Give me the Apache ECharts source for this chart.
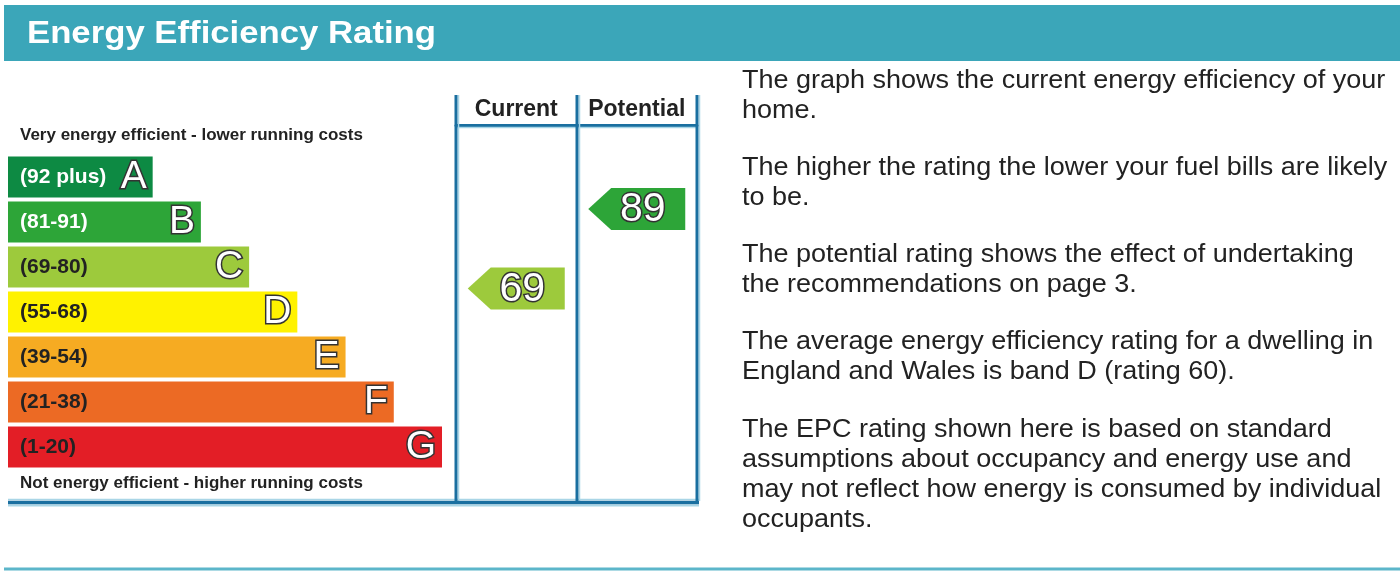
<!DOCTYPE html>
<html>
<head>
<meta charset="utf-8">
<script src="https://cdn.jsdelivr.net/npm/echarts@6/dist/echarts.min.js"></script>
<style>
html,body{margin:0;padding:0;background:#fff;}
#chart{width:1400px;height:571px;}
</style>
</head>
<body>
<div id="chart"></div>
<script>
// ---- data ----
const bandLetters = ['A', 'B', 'C', 'D', 'E', 'F', 'G'];
const bandRanges = ['(92 plus)', '(81-91)', '(69-80)', '(55-68)', '(39-54)', '(21-38)', '(1-20)'];
const bandMinScores = [92, 81, 69, 55, 39, 21, 1];
const barLengths = [3, 4, 5, 6, 7, 8, 9];
const ratingColumns = ['Current', 'Potential'];
const ratingValues = [69, 89];
const titleText = 'Energy Efficiency Rating';
const topNote = 'Very energy efficient - lower running costs';
const bottomNote = 'Not energy efficient - higher running costs';
const infoLines = [
  'The graph shows the current energy efficiency of your',
  'home.',
  'The higher the rating the lower your fuel bills are likely',
  'to be.',
  'The potential rating shows the effect of undertaking',
  'the recommendations on page 3.',
  'The average energy efficiency rating for a dwelling in',
  'England and Wales is band D (rating 60).',
  'The EPC rating shown here is based on standard',
  'assumptions about occupancy and energy use and',
  'may not reflect how energy is consumed by individual',
  'occupants.'
];

// ---- styles ----
const bandColors = ['#0d8a43', '#2da538', '#9dca3c', '#fff200', '#f6ab22', '#ec6a24', '#e31e26'];
const bandTextColors = ['#ffffff', '#ffffff', '#222222', '#222222', '#222222', '#222222', '#222222'];
const infoY = [81, 111, 168, 198, 255, 285, 342, 372, 430, 460, 490, 520];
const frameDark = '#1a6fa0';
const frameLight = '#a9d5e6';
const FONT = '"Liberation Sans", Arial, sans-serif';

function bandIndexFor(v) {
  for (let i = 0; i < bandMinScores.length; i++) if (v >= bandMinScores[i]) return i;
  return bandMinScores.length - 1;
}

const chart = echarts.init(document.getElementById('chart'), null, {renderer: 'canvas'});

const graphics = [
  {type: 'rect', shape: {x: 4, y: 5, width: 1396, height: 56}, style: {fill: '#3ba6b9'}, z: 1},
  {type: 'text', x: 27, y: 34, scaleX: 1.12, style: {text: titleText, fill: '#ffffff', font: 'bold 31px ' + FONT, textVerticalAlign: 'middle', textAlign: 'left'}, z: 2},
  {type: 'line', shape: {x1: 4, y1: 569, x2: 1400, y2: 569}, style: {stroke: '#5cb6ca', lineWidth: 3}, z: 1},
  {type: 'text', x: 20, y: 135, style: {text: topNote, fill: '#222', font: 'bold 17px ' + FONT, textVerticalAlign: 'middle'}, z: 2},
  {type: 'text', x: 20, y: 483, style: {text: bottomNote, fill: '#222', font: 'bold 17px ' + FONT, textVerticalAlign: 'middle'}, z: 2}
];
// frame lines
[456, 577, 697].forEach(function (x) {
  graphics.push({type: 'line', shape: {x1: x + 2.5, y1: 95, x2: x + 2.5, y2: 501}, style: {stroke: frameLight, lineWidth: 1.5}, z: 3});
  graphics.push({type: 'line', shape: {x1: x, y1: 95, x2: x, y2: 503}, style: {stroke: frameDark, lineWidth: 3}, z: 4});
});
graphics.push({type: 'line', shape: {x1: 8, y1: 499.5, x2: 699, y2: 499.5}, style: {stroke: frameLight, lineWidth: 1.5}, z: 3});
graphics.push({type: 'line', shape: {x1: 8, y1: 505.5, x2: 699, y2: 505.5}, style: {stroke: frameLight, lineWidth: 2}, z: 3});
graphics.push({type: 'line', shape: {x1: 8, y1: 502.5, x2: 699, y2: 502.5}, style: {stroke: frameDark, lineWidth: 3.5}, z: 4});
graphics.push({type: 'line', shape: {x1: 456, y1: 127.5, x2: 697, y2: 127.5}, style: {stroke: frameLight, lineWidth: 1.5}, z: 3});
infoLines.forEach(function (t, i) {
  graphics.push({type: 'text', x: 742, y: infoY[i], scaleX: 1.08, style: {text: t, fill: '#222', font: '25px ' + FONT, textVerticalAlign: 'middle'}, z: 2});
});

const option = {
  animation: false,
  backgroundColor: '#ffffff',
  grid: [
    {left: 8, top: 154.5, width: 434, height: 315},
    {left: 456, top: 165.3, width: 241, height: 397.5}
  ],
  xAxis: [
    {type: 'value', gridIndex: 0, min: 0, max: 9, show: false},
    {type: 'category', gridIndex: 1, data: ratingColumns, position: 'top', offset: 40.3,
      axisLine: {show: true, onZero: false, lineStyle: {color: frameDark, width: 3}},
      axisTick: {show: false}, splitLine: {show: false},
      axisLabel: {interval: 0, color: '#222', fontSize: 23, fontWeight: 'bold', fontFamily: FONT, margin: 4}}
  ],
  yAxis: [
    {type: 'category', gridIndex: 0, data: bandLetters, inverse: true, show: false},
    {type: 'value', gridIndex: 1, min: 0, max: 100, show: false}
  ],
  series: [
    {
      type: 'bar', xAxisIndex: 0, yAxisIndex: 0, barWidth: 41,
      data: barLengths.map(function (v, i) {
        return {value: v, itemStyle: {color: bandColors[i]},
          label: {color: bandTextColors[i]}};
      }),
      label: {show: true, position: 'insideLeft', distance: 12,
        formatter: function (p) { return bandRanges[p.dataIndex]; },
        fontSize: 21, fontWeight: 'bold', fontFamily: FONT},
      z: 2
    },
    {
      type: 'bar', xAxisIndex: 0, yAxisIndex: 0, barWidth: 41, barGap: '-100%',
      data: barLengths.slice(),
      itemStyle: {color: 'rgba(0,0,0,0)'},
      label: {show: true, position: 'insideRight', distance: 6,
        formatter: function (p) { return bandLetters[p.dataIndex]; },
        fontSize: 39, color: '#ffffff', fontFamily: FONT,
        textBorderColor: '#333333', textBorderWidth: 3},
      z: 3
    },
    {
      type: 'scatter', xAxisIndex: 1, yAxisIndex: 1,
      symbol: 'path://M0,21L23,0L97,0L97,42L23,42Z',
      symbolSize: [97, 42],
      data: ratingValues.map(function (v, i) {
        return {value: [ratingColumns[i], v], itemStyle: {color: bandColors[bandIndexFor(v)], opacity: 1}};
      }),
      label: {show: true, position: 'inside', offset: [6, 1],
        formatter: function (p) { return String(p.value[1]); },
        fontSize: 41, color: '#ffffff', fontFamily: FONT,
        textBorderColor: '#333333', textBorderWidth: 3},
      z: 5
    }
  ],
  graphic: graphics
};
chart.setOption(option);
</script>
</body>
</html>
